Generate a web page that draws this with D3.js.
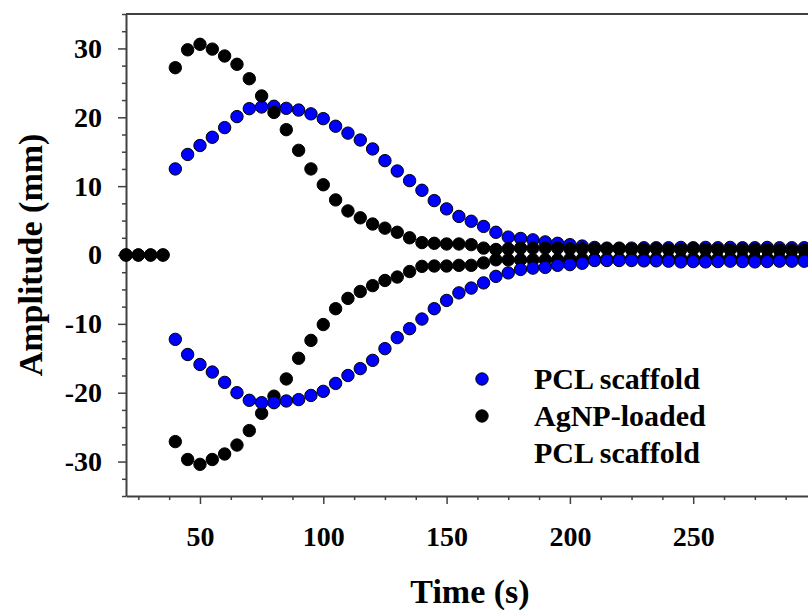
<!DOCTYPE html>
<html>
<head>
<meta charset="utf-8">
<script src="https://cdn.jsdelivr.net/npm/d3@7"></script>
<style>
  body { margin: 0; background: #fff; }
  text { font-family: "Liberation Serif", "Times New Roman", serif; font-weight: bold; fill: #000; }
</style>
</head>
<body>
<div id="chart"></div>
<script>
// values (time in s, amplitude in mm)
let time = [20, 25, 30, 35, 40, 45, 50, 55, 60, 65, 70, 75, 80, 85, 90, 95, 100, 105, 110, 115,
    120, 125, 130, 135, 140, 145, 150, 155, 160, 165, 170, 175, 180, 185, 190, 195, 200, 205, 210, 215,
    220, 225, 230, 235, 240, 245, 250, 255, 260, 265, 270, 275, 280, 285, 290, 295];

let pclUpper = [null, null, null, null,
    12.5, 14.6, 15.9, 17.1, 18.5, 20.1, 21.25, 21.5, 21.6, 21.3,
    21.05, 20.5, 19.8, 18.7, 17.7, 16.7, 15.4, 13.7, 12.2, 10.8,
    9.4, 7.9, 6.7, 5.6, 4.9, 4.15, 3.3, 2.6, 2.4, 2.2,
    1.9, 1.7, 1.5, 1.3, 1.1, 1.0, 1.0, 1.0, 1.05, 1.05,
    1.05, 1.1, 1.05, 1.1, 1.05, 1.1, 1.05, 1.05, 1.1, 1.05,
    1.05, 1.05];
let pclLower = [null, null, null, null,
    -12.25, -14.45, -15.9, -17.0, -18.5, -20.0, -21.1, -21.45, -21.45, -21.2,
    -21.0, -20.4, -19.8, -18.65, -17.5, -16.5, -15.3, -13.6, -12.0, -10.7,
    -9.3, -7.8, -6.6, -5.5, -4.8, -4.05, -3.1, -2.6, -2.1, -1.9,
    -1.8, -1.5, -1.4, -1.2, -0.8, -0.8, -0.8, -0.8, -0.85, -0.85,
    -0.9, -1.0, -0.95, -1.0, -0.95, -0.9, -0.95, -1.0, -0.95, -0.9,
    -0.9, -0.9];
let agUpper = [0, 0, 0, 0,
    27.2, 29.8, 30.6, 29.9, 28.9, 27.7, 25.6, 23.1, 20.7, 18.2,
    15.2, 12.5, 10.2, 8.0, 6.4, 5.4, 4.5, 3.9, 3.3, 2.5,
    1.8, 1.7, 1.6, 1.6, 1.5, 1.0, 0.8, 0.9, 1.0, 1.0,
    1.0, 1.0, 0.9, 0.9, 0.9, 0.9, 0.9, 0.8, 0.8, 0.9,
    0.8, 0.8, 0.9, 0.8, 0.8, 0.8, 0.8, 0.8, 0.8, 0.7,
    0.7, 0.7];
let agLower = [0, 0, 0, 0,
    -27.1, -29.7, -30.4, -29.7, -28.9, -27.6, -25.5, -23.0, -20.5, -18.0,
    -15.0, -12.4, -10.1, -7.8, -6.3, -5.3, -4.45, -3.7, -3.2, -2.4,
    -1.65, -1.6, -1.6, -1.5, -1.5, -1.15, -0.7, -0.7, -0.7, -0.7,
    -0.7, -0.7, -0.6, -0.6, -0.6, -0.6, -0.6, -0.55, -0.55, -0.55,
    -0.55, -0.55, -0.55, -0.55, -0.55, -0.5, -0.5, -0.5, -0.5, -0.5,
    -0.5, -0.5];

let xTicks = [50, 100, 150, 200, 250];
let xMinor = [25, 37.5, 62.5, 75, 87.5, 112.5, 125, 137.5, 162.5, 175, 187.5, 212.5, 225, 237.5, 262.5, 275, 287.5];
let yTicks = [-30, -20, -10, 0, 10, 20, 30];
let yMinor = [-35, -32.5, -27.5, -25, -22.5, -17.5, -15, -12.5, -7.5, -5, -2.5,
    2.5, 5, 7.5, 12.5, 15, 17.5, 22.5, 25, 27.5, 32.5, 35];

let legendLabels = [["PCL scaffold"], ["AgNP-loaded", "PCL scaffold"]];

const width = 808, height = 610;
const axisColor = "#404040";

let svg = d3.select("#chart").append("svg")
    .attr("width", width)
    .attr("height", height);

// plot area runs past the right edge of the window (picture is cropped there)
let x = d3.scaleLinear().domain([20, 300]).range([126, 816.5]);
let y = d3.scaleLinear().domain([-35, 35]).range([496, 14]);

// top frame line
svg.append("line")
    .attr("x1", x(20)).attr("x2", x(300))
    .attr("y1", y(35)).attr("y2", y(35))
    .attr("stroke", axisColor).attr("stroke-width", 2);

// plain hyphen for negatives, like the original
let plain = d => String(d);

// x axis
let xAxisG = svg.append("g").attr("transform", `translate(0, ${y(-35)})`);
xAxisG.append("g")
    .call(d3.axisBottom(x).tickValues(xMinor).tickSize(4).tickFormat(""))
    .call(g => g.select(".domain").remove());
xAxisG.append("g")
    .call(d3.axisBottom(x).tickValues(xTicks).tickSize(8).tickPadding(22).tickSizeOuter(0).tickFormat(plain))
    .call(g => g.select(".domain").attr("stroke-width", 2));
xAxisG.selectAll("line").attr("stroke", axisColor).attr("stroke-width", 1.5);
xAxisG.selectAll(".domain").attr("stroke", axisColor);
xAxisG.selectAll("text").style("font-size", "28px").attr("fill", "#000");

// y axis
let yAxisG = svg.append("g").attr("transform", `translate(${x(20)}, 0)`);
yAxisG.append("g")
    .call(d3.axisLeft(y).tickValues(yMinor).tickSize(4).tickFormat(""))
    .call(g => g.select(".domain").remove());
yAxisG.append("g")
    .call(d3.axisLeft(y).tickValues(yTicks).tickSize(8).tickPadding(16).tickSizeOuter(0).tickFormat(plain))
    .call(g => g.select(".domain").attr("stroke-width", 2));
yAxisG.selectAll("line").attr("stroke", axisColor).attr("stroke-width", 1.5);
yAxisG.selectAll(".domain").attr("stroke", axisColor);
yAxisG.selectAll("text").style("font-size", "28px").attr("fill", "#000");

// axis titles
svg.append("text")
    .attr("x", 470).attr("y", 603)
    .style("text-anchor", "middle")
    .style("font-size", "34px")
    .text("Time (s)");

svg.append("text")
    .attr("transform", `translate(42, ${y(0)}) rotate(-90)`)
    .style("text-anchor", "middle")
    .style("font-size", "34px")
    .text("Amplitude (mm)");

// points: blue upper, black upper, black lower, blue lower
let toPoints = vals => time.map((t, i) => ({t: t, v: vals[i]})).filter(d => d.v !== null);

let series = [
    {vals: pclUpper, fill: "#0000ff"},
    {vals: agUpper, fill: "#000000"},
    {vals: agLower, fill: "#000000"},
    {vals: pclLower, fill: "#0000ff"}
];

series.forEach(s => {
    svg.append("g").selectAll("circle")
        .data(toPoints(s.vals))
        .enter()
        .append("circle")
        .attr("cx", d => x(d.t))
        .attr("cy", d => y(d.v))
        .attr("r", 6.2)
        .attr("fill", s.fill)
        .attr("stroke", "#000")
        .attr("stroke-width", 1);
});

// legend
let legend = svg.append("g");
let legendColors = ["#0000ff", "#000000"];
let legendY = [379, 416];
legendLabels.forEach((lines, i) => {
    legend.append("circle")
        .attr("cx", 482).attr("cy", legendY[i])
        .attr("r", 6.2)
        .attr("fill", legendColors[i])
        .attr("stroke", "#000").attr("stroke-width", 1);
    lines.forEach((l, j) => {
        legend.append("text")
            .attr("x", 534)
            .attr("y", legendY[i] + 10 + j * 37)
            .style("font-size", "30px")
            .text(l);
    });
});
</script>
</body>
</html>
